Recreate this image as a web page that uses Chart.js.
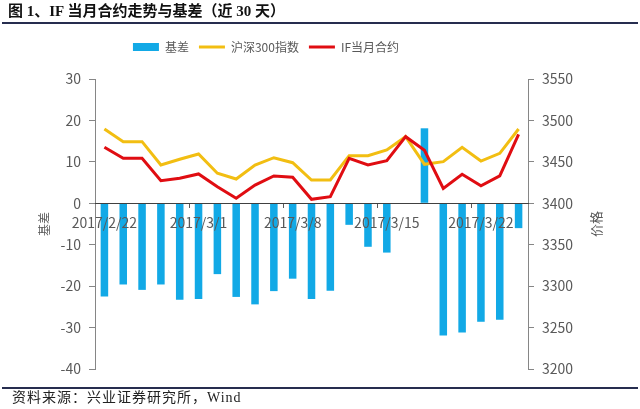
<!DOCTYPE html>
<html lang="zh">
<head>
<meta charset="utf-8">
<title>IF当月合约走势与基差</title>
<script src="https://cdn.jsdelivr.net/npm/chart.js@4.4.1/dist/chart.umd.min.js"></script>
<style>
  body { margin: 0; background: #fff; }
  .wrap { position: relative; width: 640px; height: 409px; overflow: hidden; }
  .wrap canvas { position: absolute; left: 0; top: 0; }
  .title { position: absolute; left: 8px; top: 1px; font: bold 15px/20px 'Liberation Serif', 'Noto Sans CJK SC', serif; color: #111; white-space: pre; }
  .rule { position: absolute; left: 2px; width: 636px; height: 2px; background: #262d4f; }
  .source { position: absolute; left: 12px; top: 389px; font: 14px/18px 'Liberation Serif', 'Noto Sans CJK SC', serif; letter-spacing: 1px; color: #222; white-space: pre; }
</style>
</head>
<body>
<div class="wrap">
  <canvas id="chart" width="640" height="409"></canvas>
  <div class="title">图 1、IF 当月合约走势与基差（近 30 天）</div>
  <div class="rule" style="top:22px"></div>
  <div class="rule" style="top:387px"></div>
  <div class="source">资料来源：兴业证券研究所，Wind</div>
</div>
<script>
// 数据：交易日、基差、沪深300指数、IF当月合约
const labels = ['2017/2/22', '2017/2/23', '2017/2/24', '2017/2/27', '2017/2/28',
  '2017/3/1', '2017/3/2', '2017/3/3', '2017/3/6', '2017/3/7',
  '2017/3/8', '2017/3/9', '2017/3/10', '2017/3/13', '2017/3/14',
  '2017/3/15', '2017/3/16', '2017/3/17', '2017/3/20', '2017/3/21',
  '2017/3/22', '2017/3/23', '2017/3/24'];
const basis = [-22.5, -19.6, -20.9, -19.6, -23.3, -23.1, -17.1, -22.6, -24.4, -21.2,
  -18.2, -23.1, -21.1, -5.2, -10.5, -11.9, 0, 18.1, -31.9, -31.2,
  -28.6, -28.1, -6.0];
const hs300 = [3489.7, 3474.4, 3474.4, 3446.2, 3453.1, 3459.5, 3436.2, 3429.3, 3446.2, 3455.0,
  3449.0, 3428.1, 3428.1, 3457.5, 3457.5, 3464.3, 3480.4, 3447.0, 3450.2, 3467.6,
  3451.0, 3460.3, 3489.7];
const ifMonth = [3467.6, 3454.3, 3454.3, 3427.3, 3430.2, 3435.4, 3420.0, 3406.0, 3422.0, 3433.0,
  3431.4, 3404.8, 3408.0, 3454.3, 3446.2, 3451.4, 3480.4, 3464.0, 3418.0, 3435.0,
  3421.2, 3433.0, 3483.3];
const seriesNames = ['基差', '沪深300指数', 'IF当月合约'];
const leftTitle = '基差';
const rightTitle = '价格';

const FONT = "'Noto Sans CJK SC', sans-serif";
const TEXT = '#595959';
const AXIS = '#868686';

// 右轴标题：Chart.js 默认顺时针旋转，这里要逆时针
const rightTitlePlugin = {
  id: 'rightTitle',
  afterDraw(chart) {
    const {ctx, chartArea} = chart;
    ctx.save();
    ctx.translate(chart.scales.y1.right - 44, (chartArea.top + chartArea.bottom) / 2);
    ctx.rotate(-Math.PI / 2);
    ctx.font = '13px ' + FONT;
    ctx.fillStyle = TEXT;
    ctx.textAlign = 'center';
    ctx.textBaseline = 'middle';
    ctx.fillText(rightTitle, 0, 0);
    ctx.restore();
  }
};

// 图例下方留白，并整体左移
const legendPlace = {
  id: 'legendPlace',
  beforeInit(chart) {
    const fit = chart.legend.fit;
    chart.legend.fit = function () {
      fit.call(this);
      this.height += 16;
    };
  },
  afterLayout(chart) {
    chart.legend.left -= 54;
    chart.legend.right -= 54;
  }
};

const yAxisBase = {
  grid: { drawOnChartArea: false, drawTicks: true, tickLength: 6, color: AXIS },
  border: { display: true, color: AXIS },
};

new Chart(document.getElementById('chart'), {
  type: 'bar',
  data: {
    labels: labels,
    datasets: [{
      type: 'bar',
      label: seriesNames[0],
      data: basis,
      yAxisID: 'y',
      backgroundColor: '#12a9e6',
      barPercentage: 0.4,
      categoryPercentage: 1.0,
      order: 2
    }, {
      type: 'line',
      label: seriesNames[1],
      data: hs300,
      yAxisID: 'y1',
      borderColor: '#f2be12',
      backgroundColor: '#f2be12',
      borderWidth: 3,
      pointRadius: 0,
      tension: 0,
      order: 1
    }, {
      type: 'line',
      label: seriesNames[2],
      data: ifMonth,
      yAxisID: 'y1',
      borderColor: '#e00d12',
      backgroundColor: '#e00d12',
      borderWidth: 3,
      pointRadius: 0,
      tension: 0,
      order: 0
    }]
  },
  options: {
    responsive: false,
    animation: false,
    layout: { padding: { top: 31, bottom: 40, left: 0, right: 0 } },
    plugins: {
      tooltip: { enabled: false },
      legend: {
        position: 'top',
        labels: {
          font: { family: FONT, size: 12 },
          color: TEXT,
          usePointStyle: true,
          pointStyleWidth: 26,
          boxHeight: 8,
          padding: 10,
          sort: (a, b) => a.datasetIndex - b.datasetIndex,
          generateLabels(chart) {
            const items = Chart.defaults.plugins.legend.labels.generateLabels(chart);
            items.forEach(item => {
              const ds = chart.data.datasets[item.datasetIndex];
              if (ds.type === 'line') {
                item.pointStyle = 'line';
                item.strokeStyle = ds.borderColor;
                item.lineWidth = 3;
              } else {
                item.pointStyle = 'rect';
                item.lineWidth = 0;
              }
            });
            return items;
          }
        }
      }
    },
    scales: {
      x: {
        position: { y: 0 },
        offset: true,
        grid: {
          offset: true,
          drawOnChartArea: false,
          tickLength: 4,
          color: ctx => (ctx.index > 0 && ctx.index % 5 === 0) ? '#595959' : 'rgba(0,0,0,0)'
        },
        border: { display: true, color: '#404040', z: 1 },
        ticks: {
          autoSkip: false,
          maxRotation: 0,
          padding: 7,
          z: 1,
          font: { family: FONT, size: 14 },
          color: TEXT,
          callback(value, index) {
            return index % 5 === 0 ? this.getLabelForValue(value) : '';
          }
        }
      },
      y: {
        ...yAxisBase,
        position: 'left',
        min: -40,
        max: 30,
        ticks: { stepSize: 10, padding: 8, font: { family: FONT, size: 14 }, color: TEXT },
        title: {
          display: true,
          text: leftTitle,
          font: { family: FONT, size: 12 },
          color: TEXT,
          padding: { top: 37, bottom: 0 }
        },
        afterFit(scale) { scale.width = 95; }
      },
      y1: {
        ...yAxisBase,
        position: 'right',
        min: 3200,
        max: 3550,
        ticks: {
          stepSize: 50, padding: 8, font: { family: FONT, size: 14 }, color: TEXT,
          callback: value => String(value)
        },
        afterFit(scale) { scale.width = 112; }
      }
    }
  },
  plugins: [legendPlace, rightTitlePlugin]
});
</script>
</body>
</html>
